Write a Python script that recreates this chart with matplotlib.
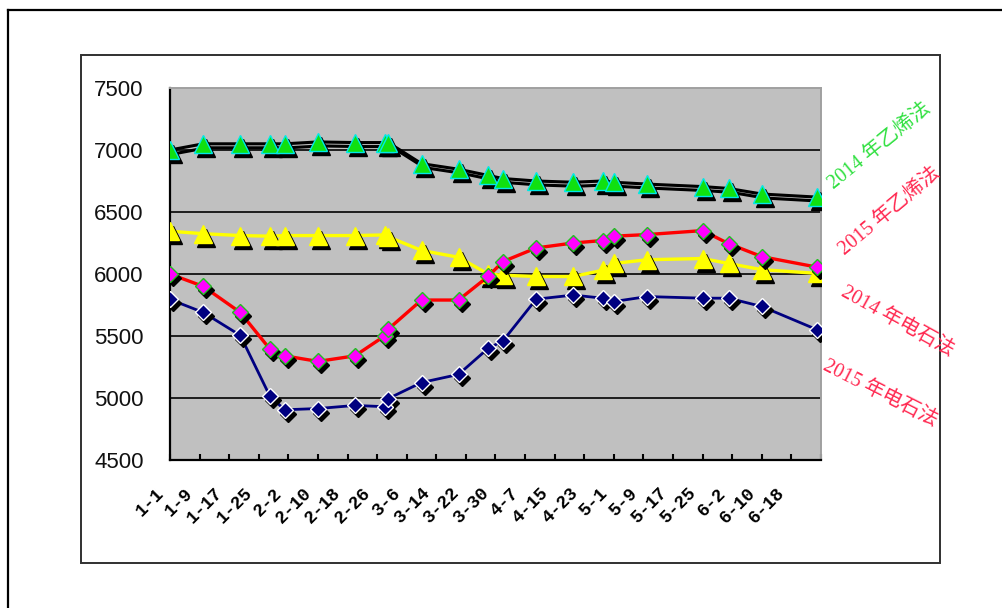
import datetime as dt
import matplotlib
matplotlib.use("Agg")
import matplotlib.pyplot as plt
from matplotlib import transforms
from matplotlib.lines import Line2D

# Observation dates (month-day) shared by all four series
dates = ["1-1", "1-10", "1-20", "1-28", "2-1", "2-10", "2-20", "2-28", "3-1",
         "3-10", "3-20", "3-28", "4-1", "4-10", "4-20", "4-28", "5-1", "5-10",
         "5-25", "6-1", "6-10", "6-25"]

# Prices (yuan/ton)
eth_2014 = [7000, 7050, 7050, 7050, 7050, 7065, 7060, 7060, 7060, 6890, 6845,
            6795, 6770, 6750, 6740, 6750, 6740, 6725, 6705, 6690, 6645, 6620]
eth_2015 = [6345, 6325, 6310, 6305, 6310, 6310, 6310, 6315, 6300, 6190, 6135,
            6000, 5990, 5980, 5980, 6030, 6085, 6115, 6125, 6085, 6035, 6005]
carb_2014 = [6000, 5900, 5690, 5395, 5340, 5295, 5340, 5500, 5555, 5790, 5790,
             5980, 6100, 6210, 6250, 6270, 6305, 6318, 6350, 6245, 6140, 6055]
carb_2015 = [5795, 5690, 5505, 5015, 4905, 4915, 4940, 4930, 4995, 5125, 5190,
             5400, 5460, 5797, 5830, 5805, 5778, 5818, 5805, 5805, 5738, 5550]

tick_labels = ["1-1", "1-9", "1-17", "1-25", "2-2", "2-10", "2-18", "2-26",
               "3-6", "3-14", "3-22", "3-30", "4-7", "4-15", "4-23", "5-1",
               "5-9", "5-17", "5-25", "6-2", "6-10", "6-18"]
axis_end = "6-26"

y_ticks = [4500, 5000, 5500, 6000, 6500, 7000, 7500]

series_names = ["2014 年乙烯法", "2015 年乙烯法", "2014 年电石法", "2015 年电石法"]


def day_of_year(md):
    m, d = (int(v) for v in md.split("-"))
    return (dt.date(2015, m, d) - dt.date(2015, 1, 1)).days


x = [day_of_year(s) for s in dates]
tick_pos = [day_of_year(s) for s in tick_labels] + [day_of_year(axis_end)]

W, H = 1003, 608
fig = plt.figure(figsize=(W / 100, H / 100), dpi=100)
fig.patch.set_facecolor("white")

# outer frame (runs off the right and bottom edges)
fig.add_artist(Line2D([8 / W, 1.0], [1 - 10 / H, 1 - 10 / H],
                      transform=fig.transFigure, color="black", lw=1.6))
fig.add_artist(Line2D([8 / W, 8 / W], [1 - 10 / H, 0.0],
                      transform=fig.transFigure, color="black", lw=1.6))
# chart-area frame
fig.add_artist(plt.Rectangle((81 / W, 1 - 563 / H), (940 - 81) / W, (563 - 55) / H,
                             transform=fig.transFigure, fill=False,
                             edgecolor="#303030", lw=1.4))

ax = fig.add_axes([170 / W, 1 - 460 / H, (821 - 170) / W, (460 - 88) / H])
ax.set_facecolor("#c0c0c0")
ax.set_xlim(tick_pos[0], tick_pos[-1])
ax.set_ylim(y_ticks[0], y_ticks[-1])

for v in y_ticks[1:-1]:
    ax.axhline(v, color="#101010", lw=1.3, zorder=1)

shadow = transforms.offset_copy(ax.transData, fig=fig, x=3, y=-4, units="dots")

styles = [
    # (values, line colour, line width, marker, marker size, face, edge, line shadow)
    (eth_2014, "black", 2.2, "^", 13, "#10e010", "#00e8e8", True),
    (eth_2015, "#ffff00", 2.4, "^", 13, "#ffff00", "#ffff00", False),
    (carb_2014, "#ff0000", 2.4, "D", 8.5, "#ff00ff", "#20c020", False),
    (carb_2015, "#000080", 2.0, "D", 8.5, "#000080", "white", False),
]

for z, (vals, lc, lw, mk, ms, fc, ec, lshadow) in enumerate(styles):
    base = 3 + 4 * z
    if lshadow:
        ax.plot(x, vals, color="black", lw=lw, transform=shadow, zorder=base)
    ax.plot(x, vals, color=lc, lw=lw, zorder=base + 1, solid_joinstyle="round")
    ax.plot(x, vals, linestyle="none", marker=mk, ms=ms, mfc="black",
            mec="black", mew=1.0, transform=shadow, zorder=base + 2)
    ax.plot(x, vals, linestyle="none", marker=mk, ms=ms, mfc=fc, mec=ec,
            mew=1.0, zorder=base + 3)

ax.set_yticks(y_ticks)
ax.set_yticklabels([str(v) for v in y_ticks], fontfamily="Liberation Sans",
                   fontsize=16, color="#111111")
ax.tick_params(axis="y", length=0, pad=19)

ax.set_xticks(tick_pos)
ax.set_xticklabels(tick_labels + [""], rotation=45, ha="right", va="center",
                   rotation_mode="anchor", fontfamily="Liberation Mono",
                   fontweight="bold", fontsize=13)
ax.tick_params(axis="x", direction="in", length=4, width=1.5, pad=22,
               color="black")
label_shift = transforms.ScaledTranslation(-9 / 100, 0, fig.dpi_scale_trans)
for lbl in ax.get_xticklabels():
    lbl.set_transform(lbl.get_transform() + label_shift)

for side in ("left", "bottom"):
    ax.spines[side].set_color("black")
    ax.spines[side].set_linewidth(1.6)
for side in ("top", "right"):
    ax.spines[side].set_color("#a0a0a0")
    ax.spines[side].set_linewidth(1.4)

# rotated series names on the right
label_font = ["Liberation Serif", "Noto Sans CJK SC"]
name_specs = [
    (series_names[0], 880, 146, 39, "#30e040"),
    (series_names[1], 890, 212, 40, "#ff2850"),
    (series_names[2], 897, 322, -29, "#ff2850"),
    (series_names[3], 880, 394, -27, "#ff2850"),
]
for text, px, py, rot, col in name_specs:
    fig.text(px / W, 1 - py / H, text, rotation=rot, color=col,
             fontsize=14.5, family=label_font, ha="center", va="center",
             rotation_mode="anchor")

fig.savefig("out.png", dpi=100, facecolor="white")
